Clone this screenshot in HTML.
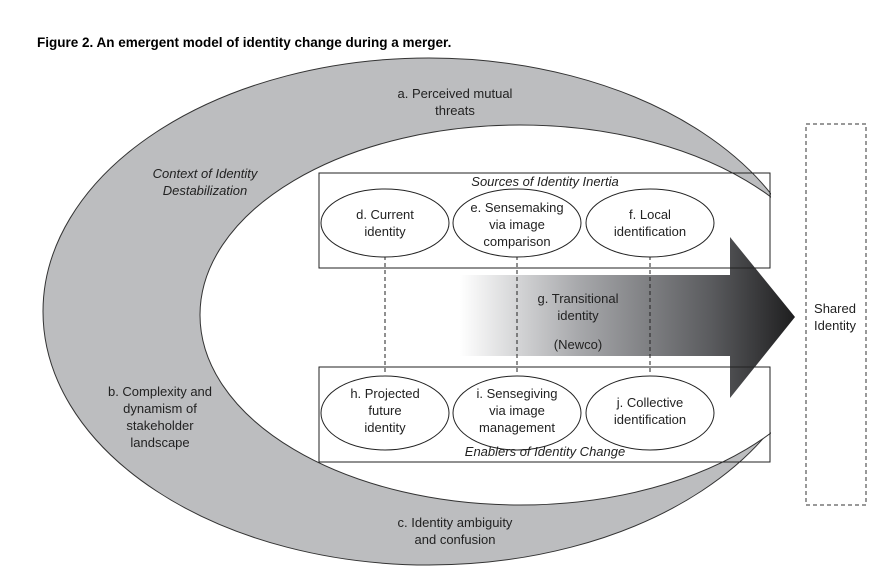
<!DOCTYPE html>
<html><head><meta charset="utf-8"><style>
body{margin:0;background:#fff;}
svg text{font-family:"Liberation Sans",Arial,sans-serif;fill:#222;}
</style></head><body>
<svg width="888" height="577" viewBox="0 0 888 577" xmlns="http://www.w3.org/2000/svg">
<defs>
<linearGradient id="g" x1="460" y1="0" x2="795" y2="0" gradientUnits="userSpaceOnUse">
<stop offset="0" stop-color="#fff"/><stop offset="0.35" stop-color="#a8a9ac"/><stop offset="0.75" stop-color="#5a5b5e"/><stop offset="1" stop-color="#1e1e1f"/>
</linearGradient>
<clipPath id="c"><rect x="0" y="0" width="771" height="577"/></clipPath>
</defs>
<text x="37" y="47" font-size="13.5" font-weight="bold" style="fill:#000">Figure 2. An emergent model of identity change during a merger.</text>
<g clip-path="url(#c)">
<ellipse cx="429" cy="311.5" rx="386" ry="253.5" fill="#bcbdbf" stroke="#333" stroke-width="1"/>
<ellipse cx="520" cy="315" rx="320" ry="190" fill="#fff" stroke="#333" stroke-width="1"/>
</g>
<path d="M460 275 H730 V237 L795 317 L730 398 V356 H460 Z" fill="url(#g)"/>
<rect x="319" y="173" width="451" height="95" fill="none" stroke="#222" stroke-width="1"/>
<rect x="319" y="367" width="451" height="95" fill="none" stroke="#222" stroke-width="1"/>
<g stroke="#222" stroke-dasharray="4,3" stroke-width="1">
<line x1="385" y1="256" x2="385" y2="375"/>
<line x1="517" y1="256" x2="517" y2="375"/>
<line x1="650" y1="256" x2="650" y2="375"/>
</g>
<g fill="#fff" stroke="#222" stroke-width="1">
<ellipse cx="385" cy="223" rx="64" ry="34"/>
<ellipse cx="517" cy="223" rx="64" ry="34"/>
<ellipse cx="650" cy="223" rx="64" ry="34"/>
<ellipse cx="385" cy="413" rx="64" ry="37"/>
<ellipse cx="517" cy="413" rx="64" ry="37"/>
<ellipse cx="650" cy="413" rx="64" ry="37"/>
</g>
<rect x="806" y="124" width="60" height="381" fill="none" stroke="#333" stroke-dasharray="4,3"/>
<g font-size="13" text-anchor="middle">
<text x="455" y="98">a. Perceived mutual</text><text x="455" y="115">threats</text>
<text x="205" y="178" font-style="italic">Context of Identity</text><text x="205" y="195" font-style="italic">Destabilization</text>
<text x="160" y="396">b. Complexity and</text><text x="160" y="413">dynamism of</text><text x="160" y="430">stakeholder</text><text x="160" y="447">landscape</text>
<text x="455" y="527">c. Identity ambiguity</text><text x="455" y="544">and confusion</text>
<text x="545" y="186" font-style="italic">Sources of Identity Inertia</text>
<text x="385" y="219">d. Current</text><text x="385" y="236">identity</text>
<text x="517" y="212">e. Sensemaking</text><text x="517" y="229">via image</text><text x="517" y="246">comparison</text>
<text x="650" y="219">f. Local</text><text x="650" y="236">identification</text>
<text x="578" y="303">g. Transitional</text><text x="578" y="320">identity</text><text x="578" y="349">(Newco)</text>
<text x="385" y="398">h. Projected</text><text x="385" y="415">future</text><text x="385" y="432">identity</text>
<text x="517" y="398">i. Sensegiving</text><text x="517" y="415">via image</text><text x="517" y="432">management</text>
<text x="650" y="407">j. Collective</text><text x="650" y="424">identification</text>
<text x="545" y="456" font-style="italic">Enablers of Identity Change</text>
<text x="835" y="313">Shared</text><text x="835" y="330">Identity</text>
</g>
</svg>
</body></html>
